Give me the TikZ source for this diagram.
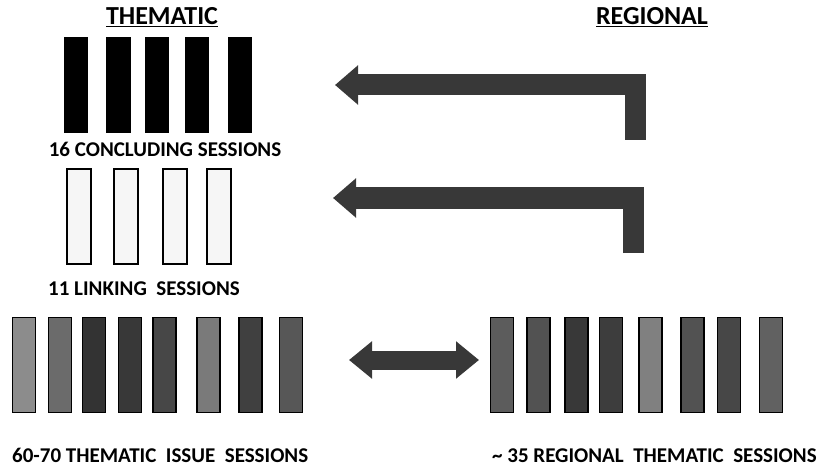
\documentclass[tikz,border=0pt]{standalone}
\usepackage{fontspec}
\setmainfont{Carlito}
\usetikzlibrary{arrows.meta}
\definecolor{arrowgray}{gray}{0.22}

\begin{document}
\begin{tikzpicture}[x=1pt,y=-1pt,font=\bfseries,
  bar/.style={draw=black,line width=1.5pt,inner sep=0pt,
    minimum width=23pt,minimum height=95pt},
  concl/.style={bar,fill=black},
  linkbar/.style={bar,line width=2pt,fill=gray!7,minimum width=24pt},
  issue/.style={bar,fill=black!#1},
  heading/.style={font=\fontsize{26}{26}\selectfont\bfseries,anchor=base},
  caption/.style={font=\fontsize{21}{21}\selectfont\bfseries,inner sep=0pt},
  bent/.style={arrowgray,line width=21pt,line join=miter,
    -{Triangle[length=23pt,width=38pt]}},
  twoway/.style={arrowgray,line width=19pt,
    {Triangle[length=23pt,width=36pt]}-{Triangle[length=23pt,width=36pt]}}]
  \useasboundingbox (0,0) rectangle (825,468);
  % headings
  \node[heading] (them) at (162,25) {\underline{THEMATIC}};
  \node[heading] (regi) at (652,25) {\underline{REGIONAL}};
  % concluding sessions
  \foreach \x [count=\i] in {76,118.5,157,197,240}
    \node[concl] (c\i) at (\x,85) {};
  \node[caption,anchor=base] (lc) at (165,157) {16 CONCLUDING SESSIONS};
  % linking sessions
  \foreach \x [count=\i] in {79,125.5,175,219}
    \node[linkbar] (l\i) at (\x,216.5) {};
  \node[caption,anchor=base west] (ll) at (48,295) {11 LINKING \ SESSIONS};
  % thematic issue sessions
  \foreach \x/\s [count=\i] in {24/45,60/58,94/80,130/78,164.5/72,208.5/52,250.5/75,291/66}
    \node[issue=\s] (t\i) at (\x,365) {};
  \node[caption,anchor=base west] (lt) at (12,462) {60-70 THEMATIC \ ISSUE \ SESSIONS};
  % regional thematic sessions
  \foreach \x/\s [count=\i] in {502/64,538.5/68,576.5/78,611/76,650.5/50,692.5/68,729/72,771/62}
    \node[issue=\s] (r\i) at (\x,365) {};
  \node[caption,anchor=base west] (lr) at (492,462) {\textasciitilde\ 35 REGIONAL \ THEMATIC \ SESSIONS};
  % arrows from regional to thematic
  \coordinate (s1) at (635,140);
  \coordinate (e1) at (335,85);
  \coordinate (s2) at (633,253);
  \coordinate (e2) at (333,198);
  \draw[bent] (s1) |- (e1);
  \draw[bent] (s2) |- (e2);
  % exchange between issue and regional sessions
  \coordinate (dl) at (349,360);
  \coordinate (dr) at (479,360);
  \draw[twoway] (dl) -- (dr);
\end{tikzpicture}
\end{document}
